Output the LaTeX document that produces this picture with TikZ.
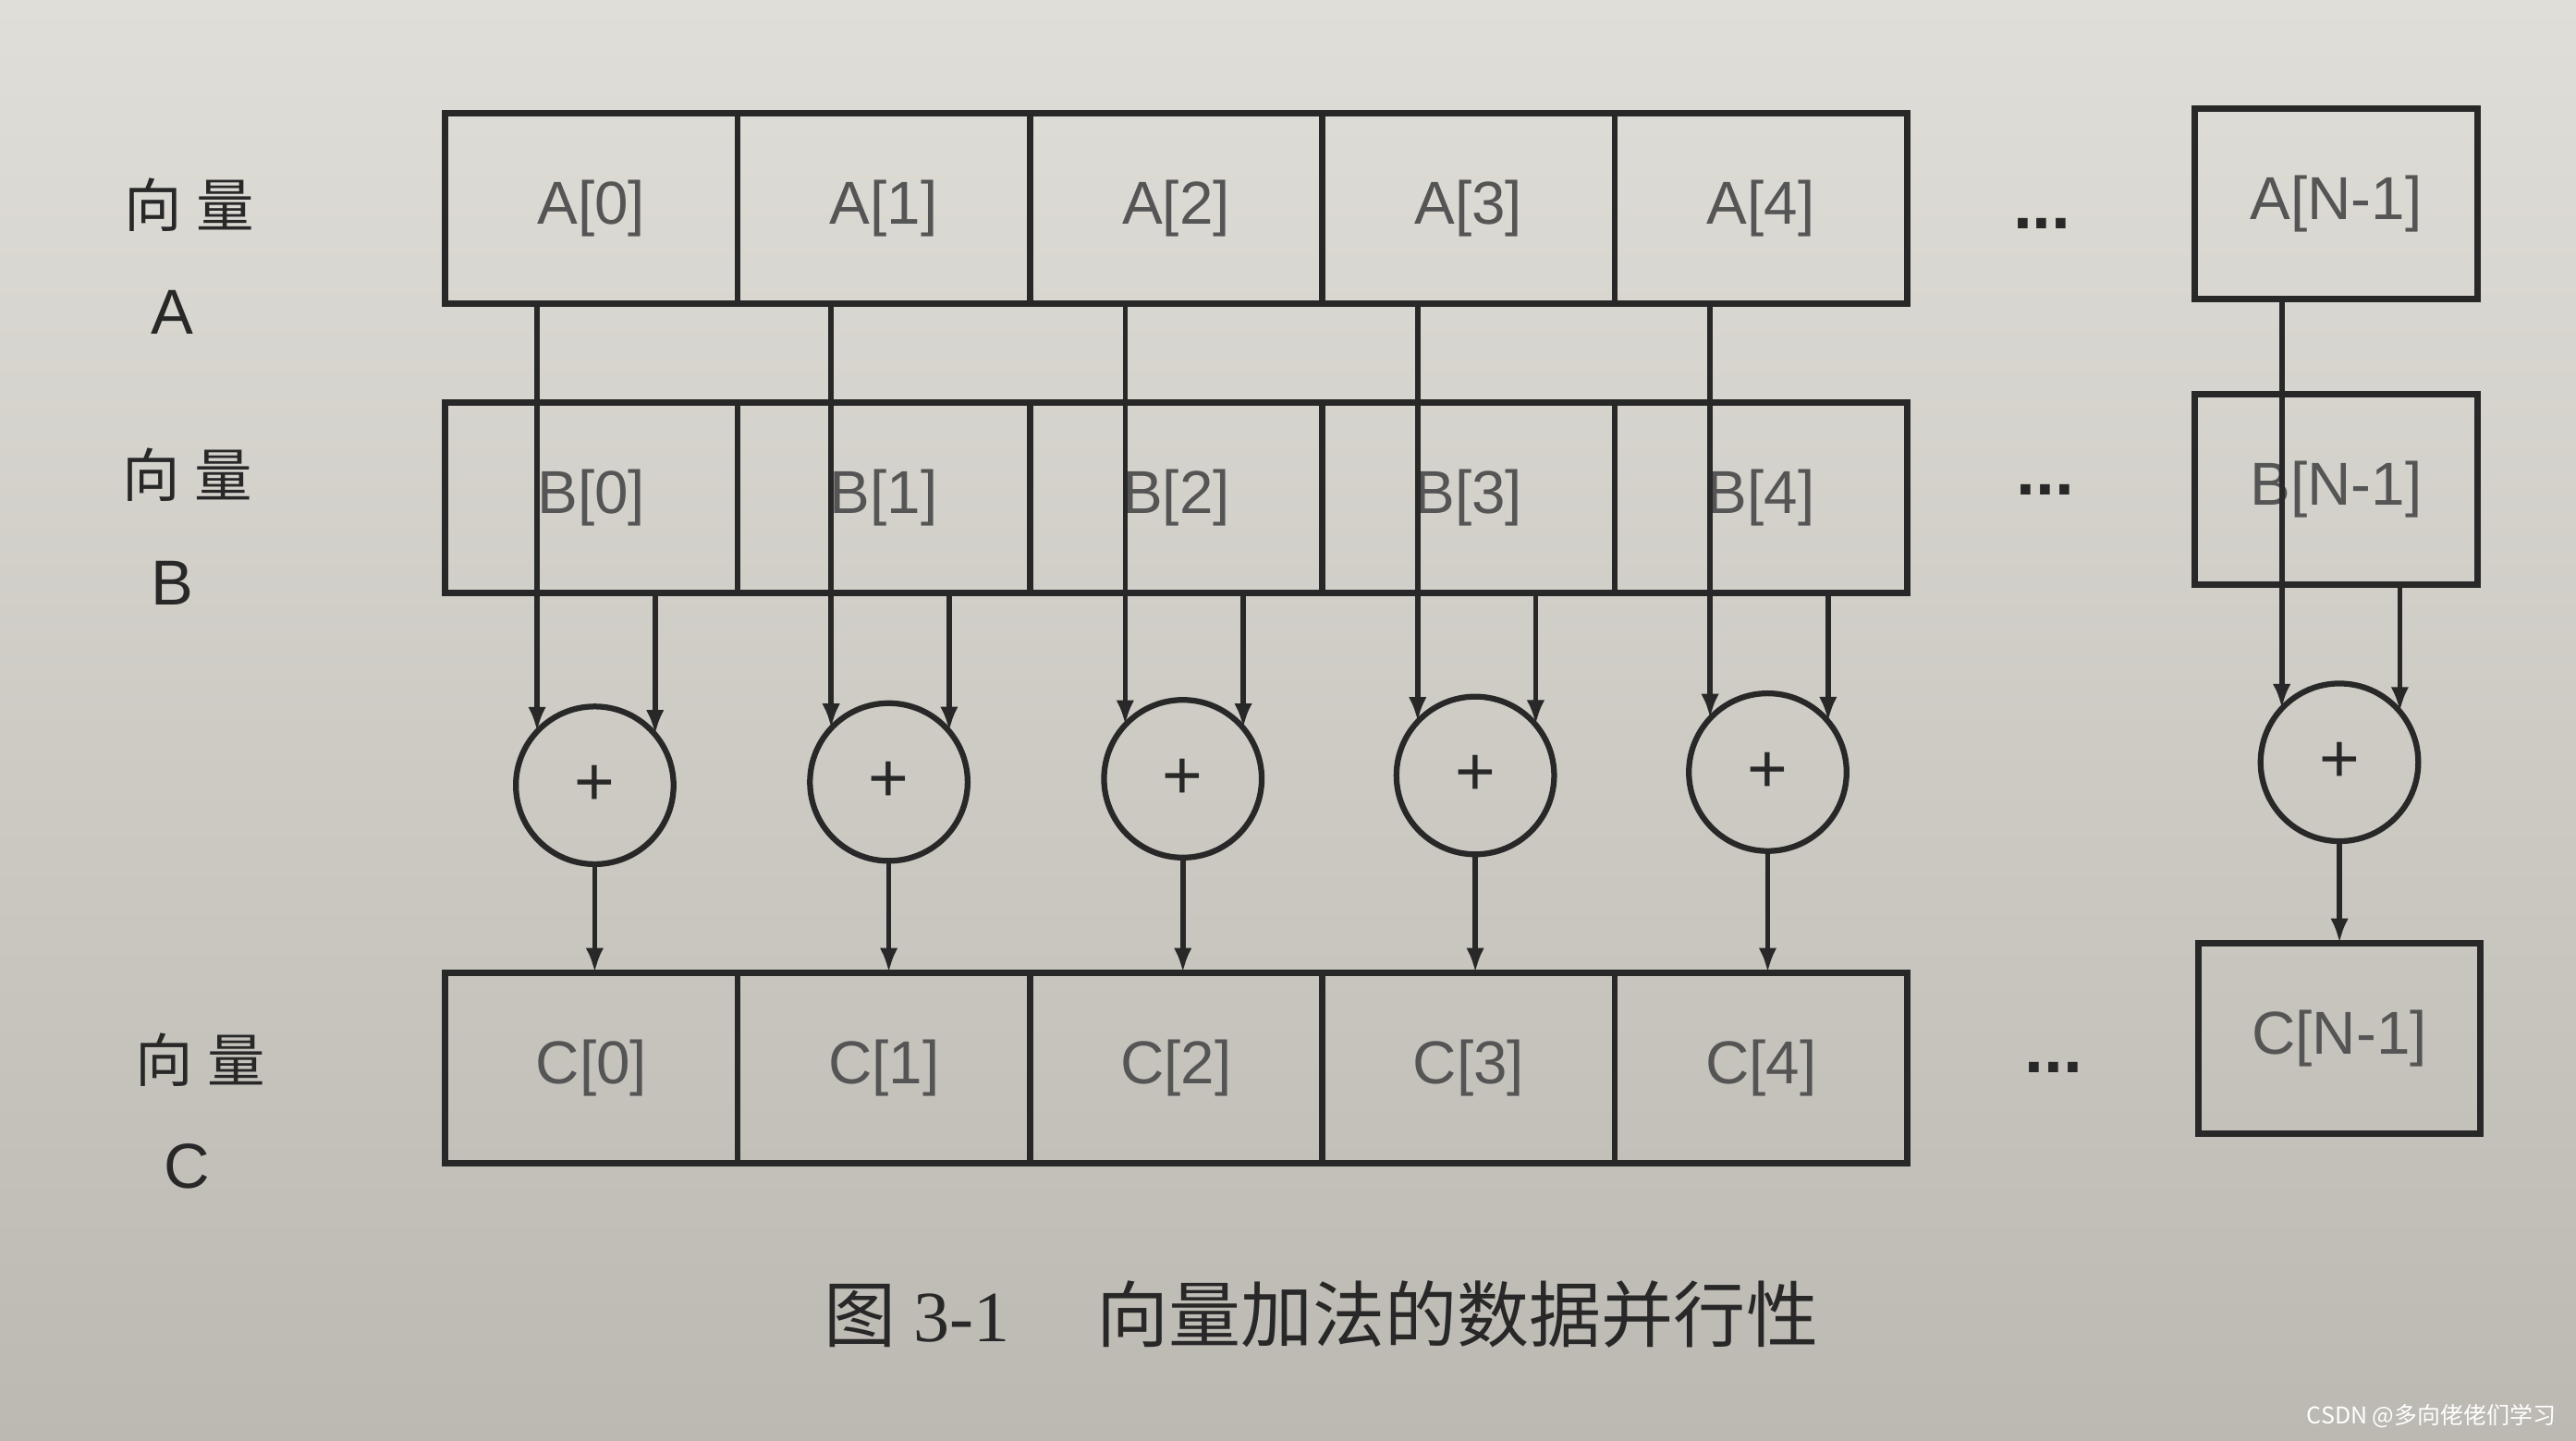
\documentclass[tikz,border=0pt]{standalone}
\usepackage{fontspec}
\setmainfont{Liberation Serif}
\setsansfont{Liberation Sans}
\newfontfamily\cjk{Noto Sans CJK SC}
\usetikzlibrary{positioning,calc,arrows.meta}

\definecolor{paper}{RGB}{224,222,216}
\definecolor{paperdark}{RGB}{188,185,178}
\definecolor{ink}{RGB}{40,40,40}
\definecolor{printgray}{RGB}{85,85,85}

\tikzset{
	cell/.style={draw=ink, line width=2.2pt, outer sep=0pt, inner sep=0pt, minimum width=3.56cm, minimum height=2.32cm, text=printgray, font=\sffamily\fontsize{21}{21}\selectfont},
	lastcell/.style={cell, minimum width=3.44cm},
	adder/.style={draw=ink, line width=2pt, circle, outer sep=0pt, inner sep=0pt, minimum size=1.92cm, text=ink, font=\sffamily\fontsize{24}{24}\selectfont},
	flow/.style={draw=ink, line width=1.8pt, -{Latex[length=0.3cm, width=0.22cm]}},
	vlabel/.style={text=ink, font=\cjk\fontsize{20}{20}\selectfont},
	vname/.style={text=ink, font=\sffamily\fontsize{22}{22}\selectfont},
	dotsnode/.style={text=ink, font=\sffamily\bfseries\fontsize{24}{24}\selectfont}
}

\begin{document}
\begin{tikzpicture}[x=0.02cm, y=-0.02cm]
		\shade[top color=paper, bottom color=paperdark] (0,0) rectangle (1568,877);
		\useasboundingbox (0,0) rectangle (1568,877);
		% vector A
		\node[cell] (a0) at (360,127) {A[0]};
		\node[cell, right=0pt of a0] (a1) {A[1]};
		\node[cell, right=0pt of a1] (a2) {A[2]};
		\node[cell, right=0pt of a2] (a3) {A[3]};
		\node[cell, right=0pt of a3] (a4) {A[4]};
		\node[lastcell] (aN) at (1422,124) {A[N-1]};
		% vector B
		\node[cell] (b0) at (360,303) {B[0]};
		\node[cell, right=0pt of b0] (b1) {B[1]};
		\node[cell, right=0pt of b1] (b2) {B[2]};
		\node[cell, right=0pt of b2] (b3) {B[3]};
		\node[cell, right=0pt of b3] (b4) {B[4]};
		\node[lastcell] (bN) at (1422,298) {B[N-1]};
		% adders
		\node[adder] (s0) at (362,478) {+};
		\node[adder] (s1) at (541,476) {+};
		\node[adder] (s2) at (720,474) {+};
		\node[adder] (s3) at (898,472) {+};
		\node[adder] (s4) at (1076,470) {+};
		\node[adder] (sN) at (1424,464) {+};
		% vector C
		\node[cell] (c0) at (360,650) {C[0]};
		\node[cell, right=0pt of c0] (c1) {C[1]};
		\node[cell, right=0pt of c1] (c2) {C[2]};
		\node[cell, right=0pt of c2] (c3) {C[3]};
		\node[cell, right=0pt of c3] (c4) {C[4]};
		\node[lastcell] (cN) at (1424,632) {C[N-1]};
		% dots
		\node[dotsnode] (da) at (1243,136) {...};
		\node[dotsnode] (db) at (1245,298) {...};
		\node[dotsnode] (dc) at (1250,650) {...};
		% row labels
		\node[vlabel] (la) at (115,125) {向\hspace{0.25em}量};
		\node[vname] (na) at (105,190) {A};
		\node[vlabel] (lb) at (114,289) {向\hspace{0.25em}量};
		\node[vname] (nb) at (105,355) {B};
		\node[vlabel] (lc) at (122,645) {向\hspace{0.25em}量};
		\node[vname] (nc) at (114,710) {C};
		% connectors
		\foreach \i in {0,1,2,3,4,N} {
			\draw[flow] (s\i.137 |- a\i.south) -- (s\i.137);
			\draw[flow] (s\i.40 |- b\i.south) -- (s\i.40);
			\draw[flow] (s\i.south) -- (s\i.south |- c\i.north);
		}
		% caption
		\node[text=ink, font=\fontsize{25}{25}\selectfont] (cap) at (804,800) {{\cjk 图} 3-1\hspace{1.2em}{\cjk 向量加法的数据并行性}};
		\node[anchor=east, text=white, font=\cjk\fontsize{8}{8}\selectfont] (mark) at (1562,862) {CSDN @多向佬佬们学习};
	\end{tikzpicture}
\end{document}
